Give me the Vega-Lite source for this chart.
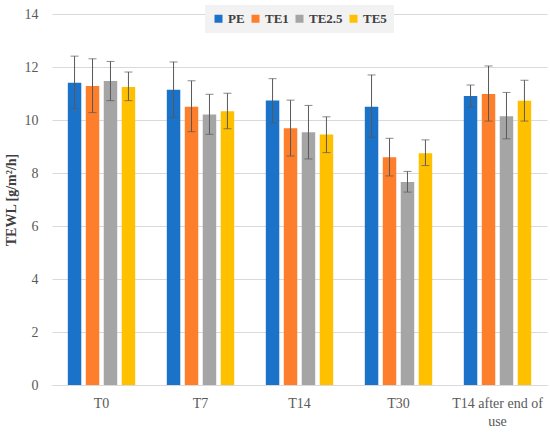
{
  "$schema": "https://vega.github.io/schema/vega-lite/v6.json",
  "width": 495,
  "height": 371,
  "autosize": {"type": "none"},
  "padding": {"left": 52, "top": 14, "right": 3, "bottom": 47},
  "background": "white",
  "data": {
    "values": [
      {"time": "T0", "group": "PE", "v": 11.41, "lo": 10.42, "hi": 12.41},
      {"time": "T0", "group": "TE1", "v": 11.28, "lo": 10.28, "hi": 12.31},
      {"time": "T0", "group": "TE2.5", "v": 11.47, "lo": 10.73, "hi": 12.21},
      {"time": "T0", "group": "TE5", "v": 11.25, "lo": 10.73, "hi": 11.81},
      {"time": "T7", "group": "PE", "v": 11.14, "lo": 10.1, "hi": 12.19},
      {"time": "T7", "group": "TE1", "v": 10.5, "lo": 9.56, "hi": 11.48},
      {"time": "T7", "group": "TE2.5", "v": 10.21, "lo": 9.46, "hi": 10.97},
      {"time": "T7", "group": "TE5", "v": 10.33, "lo": 9.67, "hi": 11.01},
      {"time": "T14", "group": "PE", "v": 10.74, "lo": 9.89, "hi": 11.56},
      {"time": "T14", "group": "TE1", "v": 9.69, "lo": 8.64, "hi": 10.75},
      {"time": "T14", "group": "TE2.5", "v": 9.54, "lo": 8.53, "hi": 10.55},
      {"time": "T14", "group": "TE5", "v": 9.45, "lo": 8.77, "hi": 10.12},
      {"time": "T30", "group": "PE", "v": 10.5, "lo": 9.35, "hi": 11.7},
      {"time": "T30", "group": "TE1", "v": 8.59, "lo": 7.89, "hi": 9.31},
      {"time": "T30", "group": "TE2.5", "v": 7.66, "lo": 7.28, "hi": 8.06},
      {"time": "T30", "group": "TE5", "v": 8.75, "lo": 8.28, "hi": 9.25},
      {"time": "T14 after end of use", "group": "PE", "v": 10.91, "lo": 10.48, "hi": 11.32},
      {"time": "T14 after end of use", "group": "TE1", "v": 10.98, "lo": 9.96, "hi": 12.04},
      {"time": "T14 after end of use", "group": "TE2.5", "v": 10.14, "lo": 9.29, "hi": 11.04},
      {"time": "T14 after end of use", "group": "TE5", "v": 10.73, "lo": 9.96, "hi": 11.5}
    ]
  },
  "encoding": {
    "x": {
      "field": "time", "type": "nominal", "sort": null, "title": null,
      "scale": {"paddingInner": 0, "paddingOuter": 0},
      "axis": {
        "labelAngle": 0, "ticks": false, "domainColor": "#d9d9d9", "domainWidth": 1,
        "labelFont": "Liberation Serif", "labelFontSize": 14, "labelColor": "#595959",
        "labelPadding": 11, "labelLineHeight": 18,
        "labelExpr": "datum.label == 'T14 after end of use' ? ['T14 after end of', 'use'] : datum.label"
      }
    },
    "xOffset": {
      "field": "group", "type": "nominal",
      "scale": {"paddingInner": 0.25, "paddingOuter": 0.88}
    }
  },
  "layer": [
    {
      "mark": {"type": "bar"},
      "encoding": {
        "y": {
          "field": "v", "type": "quantitative", "title": "TEWL [g/m²/h]",
          "scale": {"domain": [0, 14], "nice": false},
          "axis": {
            "values": [0, 2, 4, 6, 8, 10, 12, 14], "domain": false, "ticks": false,
            "gridColor": "#d9d9d9", "labelFont": "Liberation Serif", "labelFontSize": 14,
            "labelColor": "#595959", "labelPadding": 14,
            "titleFont": "Liberation Serif", "titleFontSize": 14, "titleFontWeight": "bold",
            "titleColor": "#404040", "titlePadding": 6
          }
        },
        "color": {
          "field": "group", "type": "nominal", "title": null,
          "scale": {"domain": ["PE", "TE1", "TE2.5", "TE5"], "range": ["#1a73c9", "#fd7e2b", "#a5a5a5", "#ffc000"]},
          "legend": {
            "orient": "none", "legendX": 153, "legendY": -9, "direction": "horizontal",
            "fillColor": "#f2f2f2", "padding": 7, "symbolType": "square", "symbolSize": 64,
            "symbolStrokeWidth": 0, "labelFont": "Liberation Serif", "labelFontSize": 13,
            "labelFontWeight": "bold", "labelColor": "#404040", "columnPadding": 4, "labelOffset": 3
          }
        }
      }
    },
    {
      "mark": {"type": "rule", "color": "#595959", "strokeWidth": 1},
      "encoding": {
        "y": {"field": "lo", "type": "quantitative"},
        "y2": {"field": "hi"}
      }
    },
    {
      "mark": {"type": "tick", "color": "#595959", "thickness": 1, "size": 8, "orient": "horizontal"},
      "encoding": {"y": {"field": "lo", "type": "quantitative"}}
    },
    {
      "mark": {"type": "tick", "color": "#595959", "thickness": 1, "size": 8, "orient": "horizontal"},
      "encoding": {"y": {"field": "hi", "type": "quantitative"}}
    }
  ],
  "config": {"view": {"stroke": null}}
}
